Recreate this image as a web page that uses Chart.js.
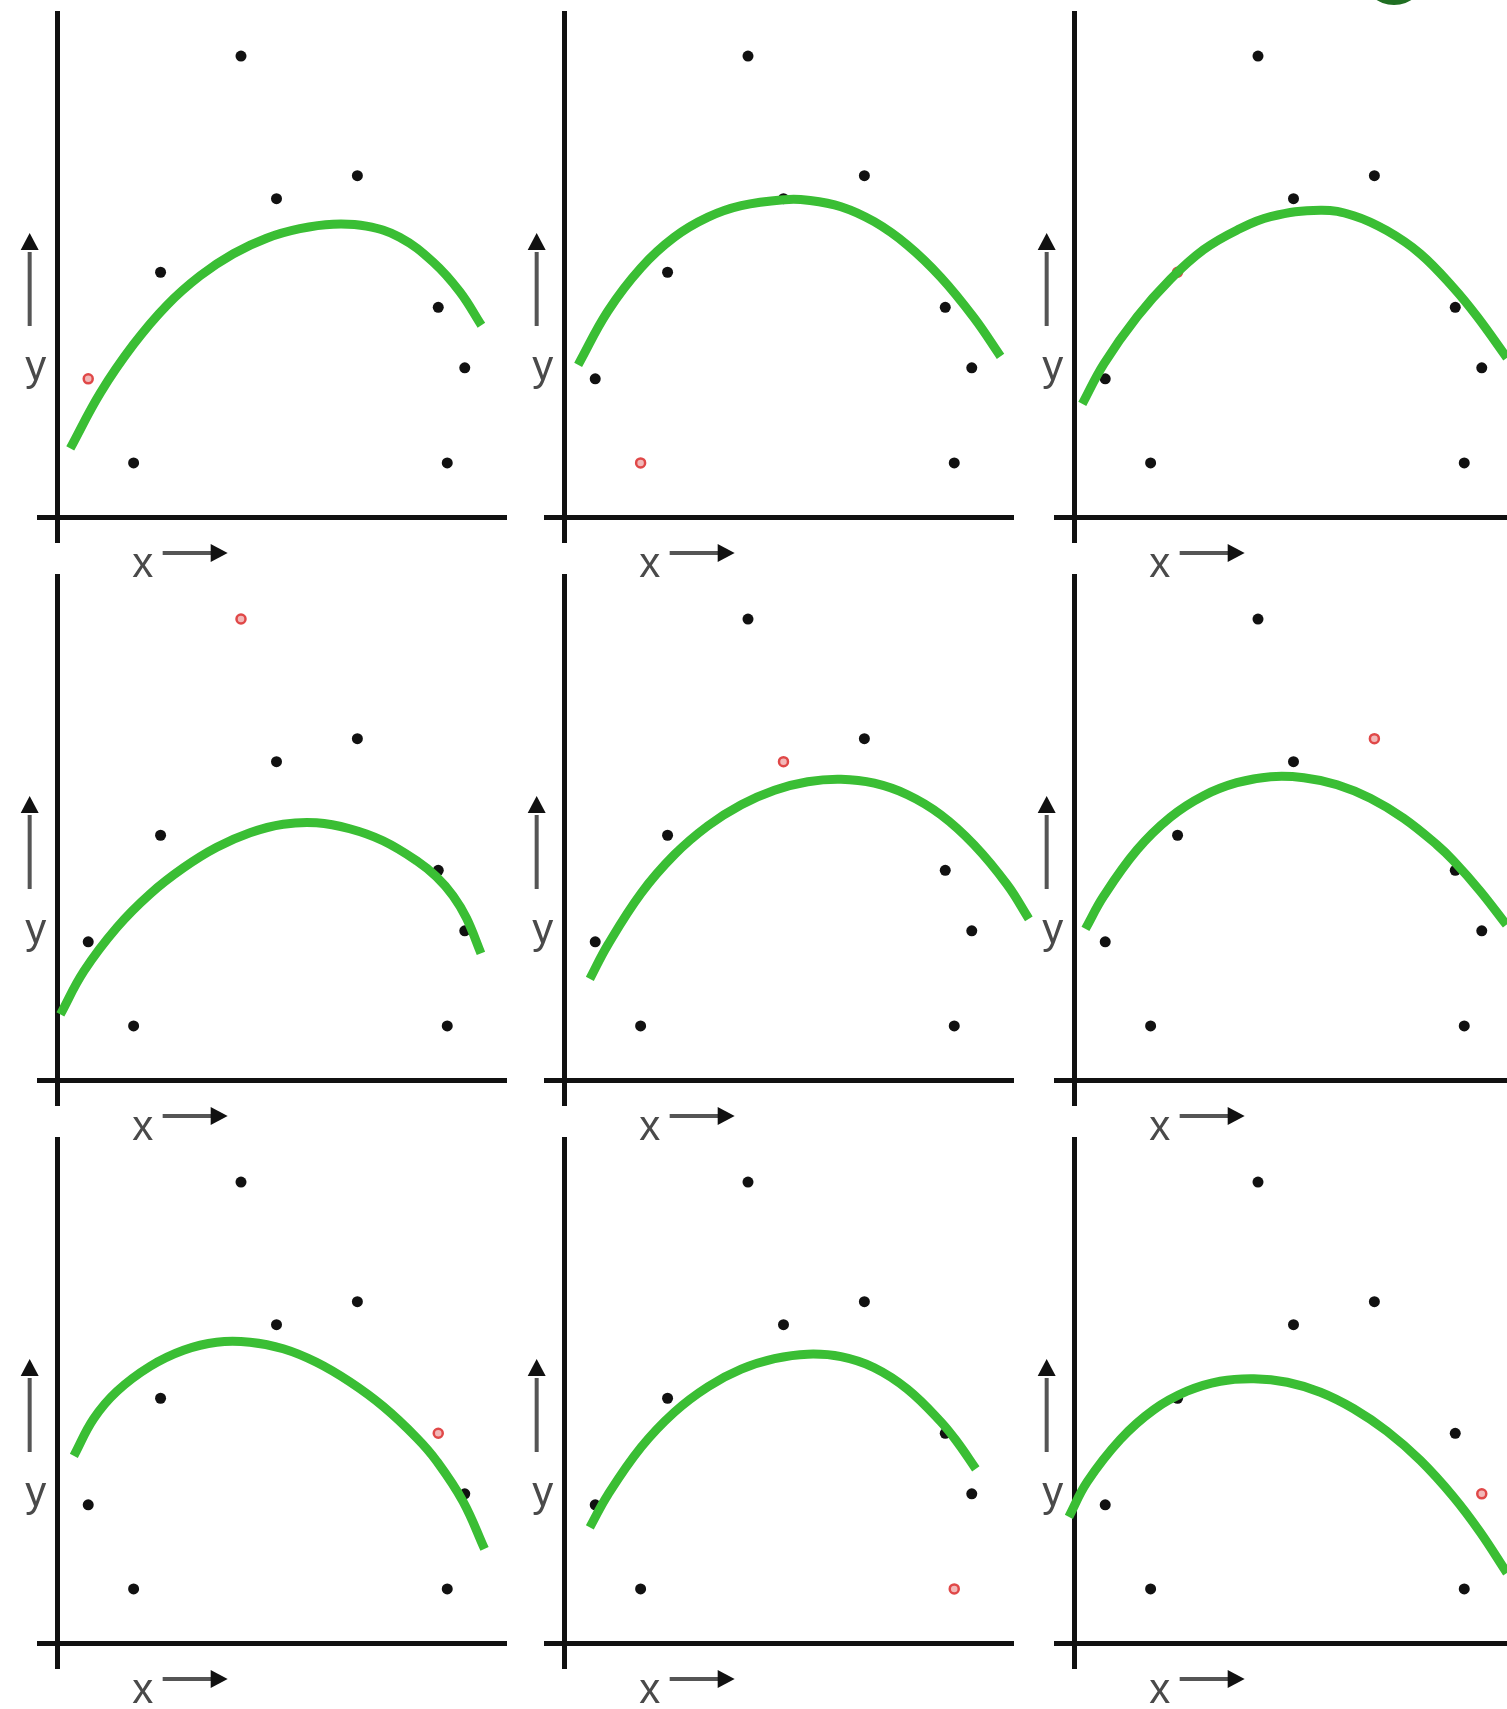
<!DOCTYPE html>
<html>
<head>
<meta charset="utf-8">
<script src="https://cdn.jsdelivr.net/npm/chart.js@4.4.1/dist/chart.umd.min.js"></script>
<style>
  html, body { margin: 0; padding: 0; background: #fff; }
  body { position: relative; width: 1507px; height: 1709px; overflow: hidden; }
  canvas.panel { position: absolute; }
</style>
</head>
<body>
<script>
// The nine observations shared by every panel
const pointX = [0.68, 1.69, 2.29, 4.08, 4.87, 6.67, 8.47, 8.67, 9.06];
const pointY = [2.78, 1.10, 4.91, 9.23, 6.38, 6.84, 4.21, 1.10, 3.00];

// Which observation is left out in each panel (row by row)
const heldOut = [0, 1, 2, 3, 4, 5, 6, 7, 8];

// Fitted curve for each panel
const curveX1 = [0.28, 0.95, 1.69, 2.43, 3.17, 3.91, 4.65, 5.39, 6.13, 6.87, 7.61, 8.36, 8.95, 9.43];
const curveY1 = [1.39, 2.50, 3.47, 4.25, 4.84, 5.28, 5.59, 5.78, 5.87, 5.83, 5.61, 5.11, 4.52, 3.85];

const curveX2 = [0.30, 0.96, 1.70, 2.44, 3.19, 3.93, 4.89, 5.41, 6.15, 6.89, 7.63, 8.37, 9.11, 9.70];
const curveY2 = [3.06, 4.13, 5.00, 5.61, 6.01, 6.24, 6.36, 6.35, 6.22, 5.92, 5.45, 4.81, 4.00, 3.23];

const curveX3 = [0.17, 0.65, 1.39, 2.13, 2.87, 3.61, 4.36, 5.47, 6.21, 6.95, 7.69, 8.43, 8.96, 9.62];
const curveY3 = [2.28, 3.08, 4.02, 4.77, 5.36, 5.75, 6.02, 6.15, 6.04, 5.74, 5.28, 4.60, 4.02, 3.20];

const curveX4 = [0.06, 0.58, 1.32, 2.06, 2.80, 3.54, 4.28, 5.02, 5.76, 6.50, 7.24, 7.99, 8.43, 8.80, 9.10, 9.42];
const curveY4 = [1.33, 2.19, 3.07, 3.74, 4.26, 4.67, 4.96, 5.13, 5.16, 5.04, 4.80, 4.40, 4.08, 3.70, 3.25, 2.55];

const curveX5 = [0.56, 0.96, 1.70, 2.44, 3.19, 3.93, 4.67, 5.41, 6.15, 6.89, 7.63, 8.37, 9.11, 9.85, 10.33];
const curveY5 = [2.04, 2.72, 3.75, 4.52, 5.10, 5.52, 5.81, 5.98, 6.03, 5.95, 5.72, 5.32, 4.72, 3.92, 3.24];

const curveX6 = [0.24, 0.65, 1.39, 2.13, 2.87, 3.61, 4.36, 5.10, 5.84, 6.58, 7.32, 8.06, 8.43, 9.02, 9.61];
const curveY6 = [3.04, 3.70, 4.62, 5.27, 5.70, 5.96, 6.08, 6.06, 5.92, 5.65, 5.25, 4.72, 4.40, 3.80, 3.12];

const curveX7 = [0.36, 0.80, 1.32, 2.06, 2.80, 3.54, 4.28, 5.02, 5.76, 6.50, 7.24, 7.99, 8.43, 9.02, 9.50];
const curveY7 = [3.76, 4.50, 5.05, 5.55, 5.87, 6.03, 6.03, 5.90, 5.63, 5.24, 4.75, 4.12, 3.66, 2.85, 1.90];

const curveX8 = [0.56, 0.96, 1.70, 2.44, 3.19, 3.93, 4.67, 5.41, 6.15, 6.89, 7.63, 8.37, 8.74, 9.15];
const curveY8 = [2.33, 2.98, 3.93, 4.63, 5.14, 5.49, 5.70, 5.79, 5.74, 5.52, 5.09, 4.44, 4.03, 3.50];

const curveX9 = [-0.13, 0.28, 1.02, 1.76, 2.50, 3.24, 3.99, 4.73, 5.47, 6.21, 6.95, 7.69, 8.43, 9.02, 9.62];
const curveY9 = [2.54, 3.24, 4.09, 4.68, 5.05, 5.25, 5.30, 5.23, 5.03, 4.70, 4.25, 3.67, 2.94, 2.24, 1.42];

const curvesX = [curveX1, curveX2, curveX3, curveX4, curveX5, curveX6, curveX7, curveX8, curveX9];
const curvesY = [curveY1, curveY2, curveY3, curveY4, curveY5, curveY6, curveY7, curveY8, curveY9];

const colLeft = [0, 507, 1017];
const rowTop = [0, 563, 1126];

const FIT_GREEN = 'rgb(58, 190, 52)';
const LABEL_FONT = '42px "Liberation Sans Narrow", "Liberation Sans", Arial, sans-serif';

// only the value 0 keeps a grid line, so the two grid lines form the axes
function zeroTickOnly(axis) {
  axis.ticks = [{ value: 0 }];
}

function drawArrowHead(ctx, tipX, tipY, dirX, dirY) {
  const len = 17, half = 9;
  const bx = tipX - dirX * len, by = tipY - dirY * len;
  ctx.beginPath();
  ctx.moveTo(tipX, tipY);
  ctx.lineTo(bx - dirY * half, by + dirX * half);
  ctx.lineTo(bx + dirY * half, by - dirX * half);
  ctx.closePath();
  ctx.fill();
}

// "y ↑" and "x →" markers next to the axes
const axisMarkers = {
  id: 'axisMarkers',
  afterDraw(chart) {
    const ctx = chart.ctx;
    const ox = chart.scales.x.getPixelForValue(0);
    const oy = chart.scales.y.getPixelForValue(0);
    ctx.save();

    ctx.strokeStyle = '#555';
    ctx.lineWidth = 4;
    ctx.beginPath();
    ctx.moveTo(ox - 28, oy - 192);
    ctx.lineTo(ox - 28, oy - 266);
    ctx.stroke();
    ctx.beginPath();
    ctx.moveTo(ox + 105, oy + 35);
    ctx.lineTo(ox + 154, oy + 35);
    ctx.stroke();

    ctx.fillStyle = '#111';
    drawArrowHead(ctx, ox - 28, oy - 285, 0, -1);
    drawArrowHead(ctx, ox + 170, oy + 35, 1, 0);

    ctx.fillStyle = '#4a4a4a';
    ctx.font = LABEL_FONT;
    ctx.textAlign = 'center';
    ctx.textBaseline = 'alphabetic';
    ctx.fillText('y', ox - 22, oy - 138);
    ctx.fillText('x', ox + 85, oy + 59);
    ctx.restore();
  }
};

// corner badge that peeks in at the top edge
const cornerBadge = {
  id: 'cornerBadge',
  afterDraw(chart, args, opts) {
    if (!opts.show) return;
    const ctx = chart.ctx;
    ctx.save();
    ctx.fillStyle = '#1f6e22';
    ctx.beginPath();
    ctx.ellipse(377, -22, 30, 27, 0, 0, Math.PI * 2);
    ctx.fill();
    ctx.restore();
  }
};

function buildPanel(idx) {
  const col = idx % 3, row = Math.floor(idx / 3);
  const canvas = document.createElement('canvas');
  canvas.className = 'panel';
  canvas.width = 540;
  canvas.height = 600;
  canvas.style.left = colLeft[col] + 'px';
  canvas.style.top = rowTop[row] + 'px';
  document.body.appendChild(canvas);

  const out = heldOut[idx];
  const training = [];
  pointX.forEach((x, i) => { if (i !== out) training.push({ x: x, y: pointY[i] }); });
  const testing = [{ x: pointX[out], y: pointY[out] }];
  const fit = curvesX[idx].map((x, i) => ({ x: x, y: curvesY[idx][i] }));

  const axisOpts = {
    type: 'linear',
    afterBuildTicks: zeroTickOnly,
    ticks: { display: false },
    grid: { color: '#111', lineWidth: 5, drawTicks: false },
    border: { display: false }
  };

  return new Chart(canvas.getContext('2d'), {
    type: 'scatter',
    data: {
      datasets: [
        {
          type: 'line',
          label: 'fit',
          data: fit,
          borderColor: FIT_GREEN,
          borderWidth: 9,
          pointRadius: 0,
          tension: 0.4,
          fill: false,
          clip: false,
          order: 0
        },
        {
          label: 'training',
          data: training,
          pointRadius: 5.5,
          backgroundColor: '#111',
          borderWidth: 0,
          order: 1
        },
        {
          label: 'held out',
          data: testing,
          pointRadius: 4.5,
          backgroundColor: '#f2b8b8',
          borderColor: '#e04848',
          borderWidth: 2.5,
          order: 2
        }
      ]
    },
    options: {
      responsive: false,
      animation: false,
      events: [],
      layout: { padding: { left: 37, top: 11, right: 33, bottom: 57 } },
      scales: {
        x: Object.assign({ min: -0.46, max: 10 }, axisOpts),
        y: Object.assign({ min: -0.5, max: 10.13 }, axisOpts)
      },
      plugins: {
        legend: { display: false },
        tooltip: { enabled: false },
        cornerBadge: { show: idx === 2 }
      }
    },
    plugins: [axisMarkers, cornerBadge]
  });
}

for (let i = 0; i < 9; i++) buildPanel(i);
</script>
</body>
</html>
